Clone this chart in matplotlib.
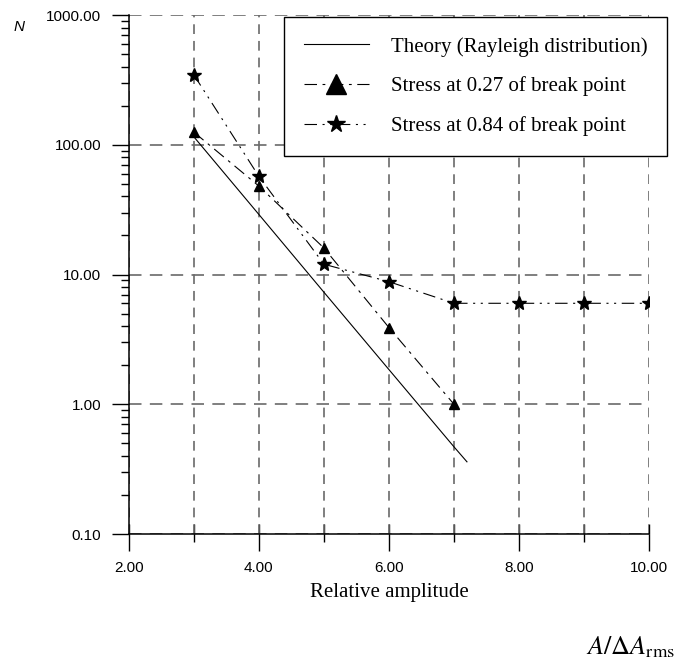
import matplotlib.pyplot as plt
from matplotlib.ticker import FixedLocator, FormatStrFormatter, LogLocator, NullFormatter

plt.rcParams['lines.scale_dashes'] = False
plt.rcParams['mathtext.fontset'] = 'stix'

# Daten
amp_theory = [3, 4, 5, 6, 7, 7.2]
n_theory = [115, 29, 7.3, 1.85, 0.47, 0.36]

amp_027 = [3, 4, 5, 6, 7]
n_027 = [125, 48, 16, 3.9, 1.0]

amp_084 = [3, 4, 5, 6, 7, 8, 9, 10]
n_084 = [345, 57, 12, 8.8, 6, 6, 6, 6]

labels = ['Theory (Rayleigh distribution)',
          'Stress at 0.27 of break point',
          'Stress at 0.84 of break point']
x_major = [2, 4, 6, 8, 10]
x_minor = [3, 5, 7, 9]
y_major = [0.1, 1, 10, 100, 1000]

fig = plt.figure(figsize=(6.82, 6.67), dpi=100)
ax = fig.add_axes([0.189, 0.1994, 0.7626, 0.7781])

ax.plot(amp_theory, n_theory, color='black', linewidth=0.8, label=labels[0])
ax.plot(amp_027, n_027, color='black', linewidth=0.8, linestyle=(0, (9, 4, 2, 4)),
        marker='^', markersize=7, label=labels[1])
ax.plot(amp_084, n_084, color='black', linewidth=0.8, linestyle=(0, (9, 4, 1.5, 4, 1.5, 4)),
        marker='*', markersize=10, label=labels[2])

ax.set_yscale('log')
ax.set_xlim(2, 10)
ax.set_ylim(0.1, 1000)

# Achsen und Ticks
ax.xaxis.set_major_locator(FixedLocator(x_major))
ax.xaxis.set_minor_locator(FixedLocator(x_minor))
ax.yaxis.set_major_locator(FixedLocator(y_major))
ax.yaxis.set_minor_locator(LogLocator(base=10, subs=range(2, 10)))
ax.yaxis.set_minor_formatter(NullFormatter())
ax.xaxis.set_major_formatter(FormatStrFormatter('%.2f'))
ax.yaxis.set_major_formatter(FormatStrFormatter('%.2f'))

ax.tick_params(axis='x', which='major', direction='out', length=12.5, width=1.0, pad=7)
ax.tick_params(axis='x', which='minor', direction='out', length=6, width=1.0)
ax.tick_params(axis='y', which='major', direction='out', length=12, width=1.0, pad=8)
ax.tick_params(axis='y', which='minor', direction='out', length=6, width=1.0)
for lab in ax.get_xticklabels() + ax.get_yticklabels():
    lab.set_fontfamily('Liberation Sans')
    lab.set_fontsize(11)

# innerer Teil der x-Ticks
sec = ax.secondary_xaxis('bottom')
sec.set_xticks(x_major)
sec.set_xticks(x_minor, minor=True)
sec.tick_params(which='both', direction='in', length=7, width=1.0, labelbottom=False)
sec.spines['bottom'].set_visible(False)

for s in ['top', 'right']:
    ax.spines[s].set_visible(False)
for s in ['left', 'bottom']:
    ax.spines[s].set_linewidth(1.1)

ax.set_axisbelow(True)
ax.xaxis.grid(True, which='both', color='#6a6a6a', linewidth=1.2, linestyle=(0, (7, 5)))
ax.yaxis.grid(True, which='major', color='#6a6a6a', linewidth=1.2, linestyle=(0, (9, 6)))

ax.set_xlabel('Relative amplitude', fontfamily='Liberation Serif', fontsize=15, labelpad=6)
fig.text(0.028, 0.96, 'N', fontfamily='Liberation Sans', style='italic', fontsize=11,
         ha='center', va='center')
fig.text(0.99, 0.03, r'$A/\Delta A_{\mathrm{rms}}$', fontsize=19, ha='right', va='center')

leg = ax.legend(loc='upper right', bbox_to_anchor=(0.978, 0.9745), bbox_transform=fig.transFigure,
                prop={'family': 'Liberation Serif', 'size': 15}, frameon=True, fancybox=False,
                framealpha=1, edgecolor='black', borderpad=0.95, labelspacing=0.95,
                handlelength=3.1, handletextpad=1.05, borderaxespad=0)
leg.get_frame().set_linewidth(1.0)
leg.set_zorder(5)
leg.legend_handles[1].set_markersize(15)
leg.legend_handles[2].set_markersize(13)

plt.savefig('out.png', dpi=100)
